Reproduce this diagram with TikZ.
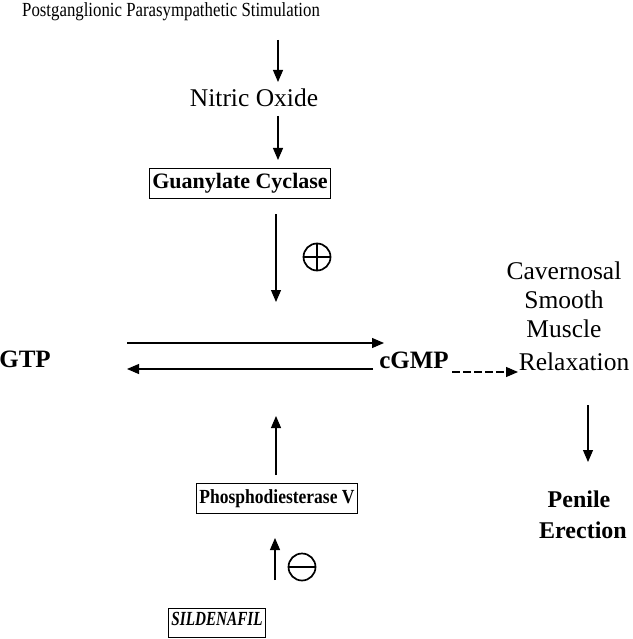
\documentclass[tikz,border=0pt]{standalone}
\usepackage{fontspec}
\usepackage{graphicx}
\setmainfont{Liberation Serif}
\usetikzlibrary{arrows.meta}
\newcommand\hsc[2]{\scalebox{#1}[1]{#2}}
\begin{document}
\begin{tikzpicture}[x=1pt,y=-1pt,
  txt/.style={inner sep=1pt,font=\fontsize{25}{29}\selectfont},
  btxt/.style={inner sep=1pt,font=\fontsize{25}{29}\selectfont\bfseries},
  boxed/.style={draw,line width=0.9pt,inner xsep=3pt},
  arr/.style={line width=1.1pt,-{Triangle[length=12pt,width=10pt]}},
  sign/.style={circle,draw,line width=1.7pt,minimum size=27pt,inner sep=0pt}]
\useasboundingbox (0,0) rectangle (632,639);
\node[inner sep=0pt,anchor=north west,font=\fontsize{20}{24}\selectfont] (stim) at (22,2) {\hsc{0.84}{Postganglionic Parasympathetic Stimulation}};
\node[txt,font=\fontsize{25.5}{29}\selectfont] (no) at (254,98) {Nitric Oxide};
\node[boxed,inner ysep=5pt,anchor=north,font=\fontsize{22}{25}\selectfont\bfseries] (gc) at (240,168) {Guanylate Cyclase};
\node[btxt] (gtp) at (25,359) {GTP};
\node[btxt] (cgmp) at (414,360) {cGMP};
\node[txt,align=center,font=\fontsize{25.5}{29}\selectfont] (relax) at (564,316) {Cavernosal\\Smooth\\Muscle\\[4pt]\hspace*{20pt}Relaxation};
\node[btxt,align=center,font=\fontsize{24}{28}\selectfont\bfseries] (pen) at (579,515) {Penile\\[3pt]\hspace*{8pt}Erection};
\node[boxed,inner ysep=6pt,anchor=north,font=\fontsize{20}{24}\selectfont\bfseries] (pde) at (277,483) {\hsc{0.875}{Phosphodiesterase V}};
\node[boxed,inner ysep=4pt,text depth=8pt,anchor=north,font=\fontsize{20}{24}\selectfont\bfseries\itshape] (sil) at (217,608) {\hsc{0.76}{SILDENAFIL}};
\coordinate (a1s) at (278,40); \coordinate (a1e) at (278,82);
\draw[arr] (a1s) -- (a1e);
\coordinate (a2s) at (278,116); \coordinate (a2e) at (278,160);
\draw[arr] (a2s) -- (a2e);
\coordinate (a3s) at (276,214); \coordinate (a3e) at (276,302);
\draw[arr] (a3s) -- (a3e);
\node[sign] (plus) at (317,257) {};
\draw[line width=1.7pt] (plus.north) -- (plus.south) (plus.west) -- (plus.east);
\coordinate (f1) at (127,343); \coordinate (f2) at (384,343);
\draw[arr] (f1) -- (f2);
\coordinate (r1) at (373,369); \coordinate (r2) at (127,369);
\draw[arr] (r1) -- (r2);
\coordinate (d1) at (452,372); \coordinate (d2) at (518,372);
\draw[arr,dash pattern=on 8pt off 3pt] (d1) -- (d2);
\coordinate (e1) at (588,405); \coordinate (e2) at (588,462);
\draw[arr] (e1) -- (e2);
\coordinate (p1) at (276,475); \coordinate (p2) at (276,416);
\draw[arr] (p1) -- (p2);
\coordinate (s1) at (275,580); \coordinate (s2) at (275,538);
\draw[arr] (s1) -- (s2);
\node[sign] (minus) at (302,567) {};
\draw[line width=1.7pt] (minus.west) -- (minus.east);
\end{tikzpicture}
\end{document}
